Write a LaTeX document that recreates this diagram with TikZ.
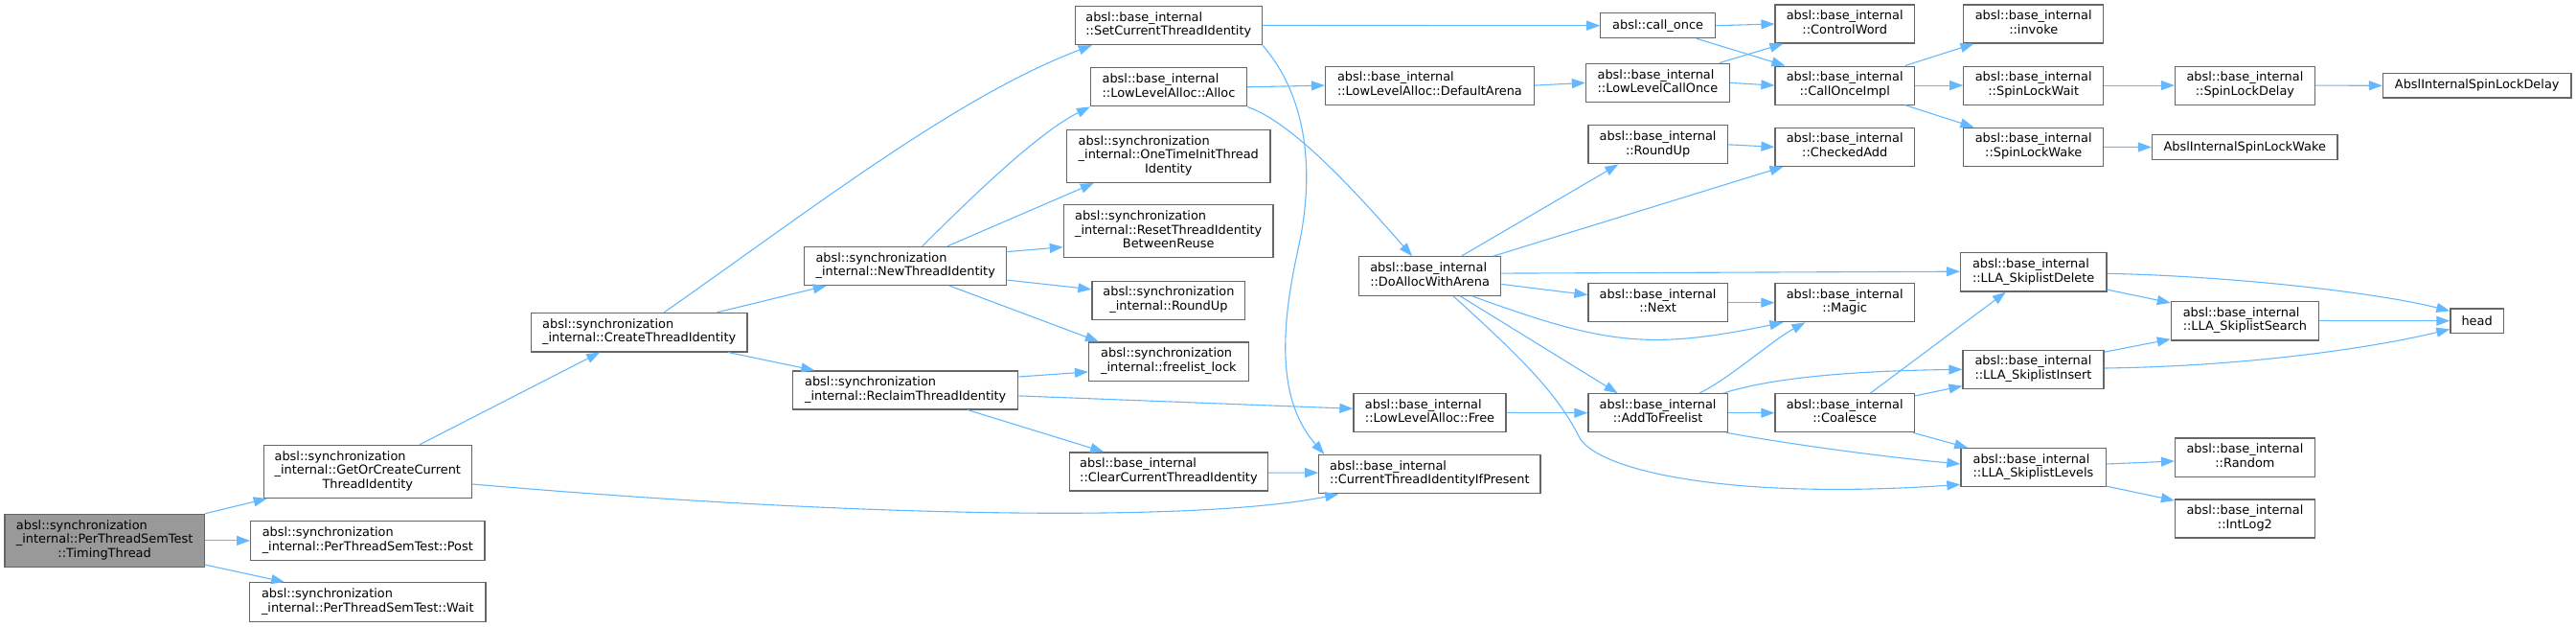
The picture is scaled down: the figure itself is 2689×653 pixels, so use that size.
\documentclass[tikz,border=0pt]{standalone}
\usepackage{fontspec}
\setmainfont{DejaVu Sans}
\usetikzlibrary{arrows.meta,calc}
\definecolor{edgeblue}{HTML}{63B8FF}
\definecolor{nodeborder}{HTML}{666666}
\definecolor{rootfill}{HTML}{999999}
\newcommand\dlbl[2]{\begin{tabular}{@{}l@{}}#1\\\multicolumn{1}{@{}c@{}}{#2}\end{tabular}}
\begin{document}
\begin{tikzpicture}[x=1pt,y=-1pt,
  font=\fontsize{12.9}{14.6}\selectfont,
  box/.style={draw=nodeborder, line width=1.2pt, fill=white, inner sep=0pt, text=black},
  rootbox/.style={box, fill=rootfill},
  edge/.style={draw=edgeblue, line width=1.1pt, -{Triangle[length=14pt,width=10pt]}}]
\useasboundingbox (0,0) rectangle (2689,653);

% ---------- nodes ----------
\node[rootbox, minimum width=208.2, minimum height=55] (tt) at (109.1,563.9) {\dlbl{absl::synchronization\\\_internal::PerThreadSemTest}{::TimingThread}};
\node[box, minimum width=217, minimum height=55] (goc) at (383.8,491.9) {\dlbl{absl::synchronization\\\_internal::GetOrCreateCurrent}{ThreadIdentity}};
\node[box, minimum width=244.4, minimum height=40.8] (post) at (383.8,563.9) {\dlbl{absl::synchronization}{\_internal::PerThreadSemTest::Post}};
\node[box, minimum width=246.2, minimum height=40.8] (wait) at (383.8,628.1) {\dlbl{absl::synchronization}{\_internal::PerThreadSemTest::Wait}};
\node[box, minimum width=225.6, minimum height=40.4] (cti) at (667.2,346.7) {\dlbl{absl::synchronization}{\_internal::CreateThreadIdentity}};
\node[box, minimum width=211.2, minimum height=40] (nti) at (945.2,277.4) {\dlbl{absl::synchronization}{\_internal::NewThreadIdentity}};
\node[box, minimum width=235.3, minimum height=40] (rti) at (945.2,406.9) {\dlbl{absl::synchronization}{\_internal::ReclaimThreadIdentity}};
\node[box, minimum width=194.8, minimum height=40.4] (scti) at (1219.8,26.4) {\dlbl{absl::base\_internal}{::SetCurrentThreadIdentity}};
\node[box, minimum width=162.9, minimum height=40] (alloc) at (1220,90.8) {\dlbl{absl::base\_internal}{::LowLevelAlloc::Alloc}};
\node[box, minimum width=212.2, minimum height=54.9] (otit) at (1219.8,162.9) {\dlbl{absl::synchronization\\\_internal::OneTimeInitThread}{Identity}};
\node[box, minimum width=218.7, minimum height=54.9] (rtibr) at (1219.7,241.2) {\dlbl{absl::synchronization\\\_internal::ResetThreadIdentity}{BetweenReuse}};
\node[box, minimum width=159.9, minimum height=40] (sru) at (1219.9,313.2) {\dlbl{absl::synchronization}{\_internal::RoundUp}};
\node[box, minimum width=166.7, minimum height=40.4] (fl) at (1219.9,377.1) {\dlbl{absl::synchronization}{\_internal::freelist\_lock}};
\node[box, minimum width=206.6, minimum height=40] (ccti) at (1219.9,491.9) {\dlbl{absl::base\_internal}{::ClearCurrentThreadIdentity}};
\node[box, minimum width=217.8, minimum height=40] (da) at (1492.4,89.1) {\dlbl{absl::base\_internal}{::LowLevelAlloc::DefaultArena}};
\node[box, minimum width=148.2, minimum height=40.4] (dawa) at (1492.6,288) {\dlbl{absl::base\_internal}{::DoAllocWithArena}};
\node[box, minimum width=159.1, minimum height=40] (free) at (1492.5,430.7) {\dlbl{absl::base\_internal}{::LowLevelAlloc::Free}};
\node[box, minimum width=231.2, minimum height=40.4] (ctiip) at (1492.4,494.6) {\dlbl{absl::base\_internal}{::CurrentThreadIdentityIfPresent}};
\node[box, minimum width=119.6, minimum height=25.9] (co) at (1730.6,26.7) {absl::call\_once};
\node[box, minimum width=150, minimum height=40.4] (llco) at (1730.4,86.4) {\dlbl{absl::base\_internal}{::LowLevelCallOnce}};
\node[box, minimum width=145.3, minimum height=40] (bru) at (1730.6,150.8) {\dlbl{absl::base\_internal}{::RoundUp}};
\node[box, minimum width=145.3, minimum height=40] (next) at (1730.6,315.7) {\dlbl{absl::base\_internal}{::Next}};
\node[box, minimum width=145.3, minimum height=40] (atf) at (1730.6,430.7) {\dlbl{absl::base\_internal}{::AddToFreelist}};
\node[box, minimum width=145.4, minimum height=40] (cw) at (1925.7,25) {\dlbl{absl::base\_internal}{::ControlWord}};
\node[box, minimum width=145.4, minimum height=40] (coi) at (1925.7,89.1) {\dlbl{absl::base\_internal}{::CallOnceImpl}};
\node[box, minimum width=145.4, minimum height=40] (ca) at (1925.7,153.3) {\dlbl{absl::base\_internal}{::CheckedAdd}};
\node[box, minimum width=145.4, minimum height=40] (magic) at (1925.7,315.7) {\dlbl{absl::base\_internal}{::Magic}};
\node[box, minimum width=145.4, minimum height=40] (coal) at (1925.7,430.7) {\dlbl{absl::base\_internal}{::Coalesce}};
\node[box, minimum width=145.8, minimum height=40] (inv) at (2122.7,25) {\dlbl{absl::base\_internal}{::invoke}};
\node[box, minimum width=145.8, minimum height=40] (slw) at (2122.7,89.1) {\dlbl{absl::base\_internal}{::SpinLockWait}};
\node[box, minimum width=145.8, minimum height=40] (slwk) at (2122.7,153.3) {\dlbl{absl::base\_internal}{::SpinLockWake}};
\node[box, minimum width=145.8, minimum height=40] (sld) at (2343.4,89.1) {\dlbl{absl::base\_internal}{::SpinLockDelay}};
\node[box, minimum width=193.6, minimum height=25.4] (aislw) at (2343.2,153.5) {AbslInternalSpinLockWake};
\node[box, minimum width=196.5, minimum height=25.4] (aisld) at (2585.7,89.3) {AbslInternalSpinLockDelay};
\node[box, minimum width=152.4, minimum height=40.4] (sdel) at (2122.7,283.8) {\dlbl{absl::base\_internal}{::LLA\_SkiplistDelete}};
\node[box, minimum width=154.1, minimum height=40.4] (ssearch) at (2343.4,334.7) {\dlbl{absl::base\_internal}{::LLA\_SkiplistSearch}};
\node[box, minimum width=55.4, minimum height=25.4] (head) at (2585.6,334.7) {head};
\node[box, minimum width=147, minimum height=40] (sins) at (2122.5,385.3) {\dlbl{absl::base\_internal}{::LLA\_SkiplistInsert}};
\node[box, minimum width=151.2, minimum height=40] (slev) at (2122.5,487.7) {\dlbl{absl::base\_internal}{::LLA\_SkiplistLevels}};
\node[box, minimum width=145.8, minimum height=40.4] (rand) at (2343.4,477.1) {\dlbl{absl::base\_internal}{::Random}};
\node[box, minimum width=145.8, minimum height=40] (ilog) at (2343.4,541) {\dlbl{absl::base\_internal}{::IntLog2}};

% ---------- edges ----------
\draw[edge] (tt.north east) -- ($(goc.south west)+(4,0)$);
\draw[edge] (tt.east) -- (post.west);
\draw[edge] ($(tt.south east)+(0,-3)$) -- ($(wait.north west)+(37,0)$);
\draw[edge] ($(goc.north west)+(163.3,0)$) -- ($(cti.south west)+(72.4,0)$);
\draw[edge] ($(goc.south east)+(0,-15)$) .. controls (900,540) and (1250,545) .. ($(ctiip.south west)+(21,0)$);
\draw[edge] ($(cti.north west)+(139.4,0)$) .. controls (850,216) and (1000,100) .. ($(scti.south west)+(18,0)$);
\draw[edge] ($(cti.north west)+(194.4,0)$) -- ($(nti.south west)+(23.7,0)$);
\draw[edge] ($(cti.south west)+(206.1,0)$) -- ($(rti.north west)+(23.3,0)$);
\draw[edge] ($(nti.north west)+(123.7,0)$) .. controls (1000,220) and (1080,140) .. (alloc.south west);
\draw[edge] ($(nti.north west)+(149.9,0)$) -- ($(otit.south west)+(28.7,0)$);
\draw[edge] ($(nti.north east)+(0,5.8)$) -- ($(rtibr.south west)+(0,-11.6)$);
\draw[edge] ($(nti.south east)+(0,-5.9)$) -- ($(sru.north west)+(0,9.2)$);
\draw[edge] ($(nti.south west)+(152,0)$) -- ($(fl.north west)+(10.9,0)$);
\draw[edge] ($(rti.north east)+(0,6.7)$) -- ($(fl.south west)+(0,-10)$);
\draw[edge] ($(rti.south east)+(0,-14.6)$) -- ($(free.north west)+(0,16.2)$);
\draw[edge] ($(rti.south west)+(182.9,0)$) -- ($(ccti.north west)+(36.2,0)$);
\draw[edge] ($(ccti.east)+(0,1.2)$) -- ($(ctiip.west)+(0,-1.5)$);
\draw[edge] (scti.east) -- (co.west);
\draw[edge] (scti.south east) .. controls (1360,95) and (1375,170) .. (1355,260) .. controls (1335,350) and (1335,420) .. ($(ctiip.north west)+(6.2,0)$);
\draw[edge] (alloc.east) -- (da.west);
\draw[edge] (alloc.south east) .. controls (1350,128) and (1415,200) .. ($(dawa.north west)+(56.2,0)$);
\draw[edge] (da.east) -- (llco.west);
\draw[edge] (co.east) -- (cw.west);
\draw[edge] ($(co.south west)+(100.8,0)$) -- ($(coi.north west)+(11,0)$);
\draw[edge] ($(llco.north west)+(140,0)$) -- ($(cw.south west)+(9,0)$);
\draw[edge] (llco.east) -- (coi.west);
\draw[edge] ($(coi.north east)+(-10.2,0)$) -- ($(inv.south west)+(11.2,0)$);
\draw[edge] (coi.east) -- (slw.west);
\draw[edge] ($(coi.south east)+(-10.2,0)$) -- ($(slwk.north west)+(11.2,0)$);
\draw[edge] (slw.east) -- (sld.west);
\draw[edge] (sld.east) -- (aisld.west);
\draw[edge] (slwk.east) -- (aislw.west);
\draw[edge] ($(dawa.north west)+(107.5,0)$) -- ($(bru.south west)+(32,0)$);
\draw[edge] ($(dawa.north west)+(140.7,0)$) -- ($(ca.south west)+(9,0)$);
\draw[edge] (bru.east) -- (ca.west);
\draw[edge] ($(dawa.north east)+(0,17.9)$) -- ($(sdel.west)+(0,-0.6)$);
\draw[edge] ($(dawa.north east)+(0,29.2)$) -- ($(next.north west)+(0,12.5)$);
\draw[edge] ($(dawa.south west)+(118.7,0)$) .. controls (1677,360) and (1722,365) .. ($(magic.south west)+(9,0)$);
\draw[edge] ($(dawa.south west)+(106.2,0)$) -- ($(atf.north west)+(31.2,0)$);
\draw[edge] ($(dawa.south west)+(99.1,0)$) .. controls (1590,375) and (1625,410) .. (1648,455) .. controls (1665,490) and (1800,522) .. ($(slev.south west)+(0,-2.9)$);
\draw[edge] (next.east) -- (magic.west);
\draw[edge] (free.east) -- (atf.west);
\draw[edge] ($(atf.north west)+(116.6,0)$) .. controls (1805,395) and (1850,355) .. ($(magic.south west)+(32,0)$);
\draw[edge] (atf.east) -- (coal.west);
\draw[edge] ($(atf.north west)+(141.5,0)$) .. controls (1850,394) and (1930,387) .. (sins.west);
\draw[edge] ($(atf.south east)+(-1.7,0)$) .. controls (1860,462) and (1960,476) .. ($(slev.west)+(0,-3.7)$);
\draw[edge] ($(coal.north west)+(100,0)$) -- ($(sdel.south west)+(47.9,0)$);
\draw[edge] ($(coal.north east)+(0,2.8)$) -- ($(sins.south west)+(0,-3.3)$);
\draw[edge] ($(coal.south east)+(-2,0)$) -- ($(slev.north west)+(7.9,0)$);
\draw[edge] ($(sdel.east)+(0,1.5)$) .. controls (2330,288) and (2480,305) .. ($(head.north west)+(0,2.9)$);
\draw[edge] ($(sdel.south east)+(0,-2.5)$) -- ($(ssearch.north west)+(0,2)$);
\draw[edge] (ssearch.east) -- (head.west);
\draw[edge] ($(sins.north east)+(0,2.5)$) -- ($(ssearch.south west)+(0,-1.7)$);
\draw[edge] ($(sins.east)+(0,-1.3)$) .. controls (2350,382) and (2480,362) .. ($(head.south west)+(0,-4.6)$);
\draw[edge] ($(slev.east)+(0,-3.7)$) -- ($(rand.west)+(0,3.9)$);
\draw[edge] ($(slev.south east)+(0,-1.2)$) -- ($(ilog.north west)+(0,1.7)$);
\end{tikzpicture}
\end{document}
